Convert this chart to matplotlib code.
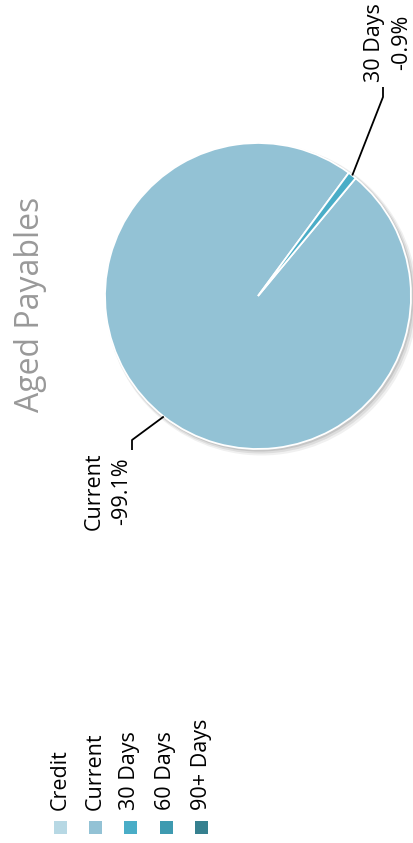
import numpy as np
import matplotlib
matplotlib.use('Agg')
import matplotlib.pyplot as plt
from matplotlib.patches import Rectangle, Circle

# Aged payables breakdown (percent of total, negative balances)
categories = ['Credit', 'Current', '30 Days', '60 Days', '90+ Days']
colors = ['#b7d8e4', '#93c2d5', '#4aadc7', '#3e9ab0', '#36808f']
pct = [0.0, -99.1, -0.9, 0.0, 0.0]

W, H = 413, 843
plt.rcParams['font.family'] = ['Open Sans', 'DejaVu Sans']

fig = plt.figure(figsize=(W / 100, H / 100), dpi=100)
ax = fig.add_axes([0, 0, 1, 1])

cx, cy, R = 258, 547, 153

# soft shadow under the pie
for i, a in enumerate([0.10, 0.08, 0.06]):
    ax.add_patch(Circle((cx + 1.5 + i, cy - 1.5 - i), R + 1 + i,
                        color='#000000', alpha=a, lw=0, zorder=1))

# only the non-zero buckets get a wedge
idx = [i for i, v in enumerate(pct) if v != 0]
vals = [abs(pct[i]) for i in idx]
wedges, _ = ax.pie(vals, colors=[colors[i] for i in idx], center=(cx, cy),
                   radius=R, startangle=53.6, counterclock=True,
                   wedgeprops=dict(edgecolor='white', linewidth=1.3),
                   frame=True)
for w in wedges:
    w.set_zorder(2)
ax.set_xlim(0, W)
ax.set_ylim(0, H)
ax.set_aspect('equal')
ax.axis('off')

# connectors and data labels
label_cfg = {
    1: dict(elbow=(132, 403), end=(132, 393), txt=(108, 391), ha='right'),
    2: dict(elbow=(383, 746), end=(383, 756), txt=(388, 761), ha='left'),
}
for w, i in zip(wedges, idx):
    mid = np.deg2rad((w.theta1 + w.theta2) / 2)
    rim = (cx + R * np.cos(mid), cy + R * np.sin(mid))
    c = label_cfg[i]
    ax.plot([rim[0], c['elbow'][0], c['end'][0]],
            [rim[1], c['elbow'][1], c['end'][1]],
            color='black', lw=1.3, zorder=3, solid_capstyle='butt')
    ax.text(c['txt'][0], c['txt'][1], '%s\n%.1f%%' % (categories[i], pct[i]),
            rotation=90, rotation_mode='anchor', ha=c['ha'], va='center',
            multialignment='center', linespacing=1.4, fontsize=15.5,
            color='black', zorder=4)

# title
ax.text(31, 539, 'Aged Payables', rotation=90, rotation_mode='anchor',
        ha='center', va='center', fontsize=23, color='#999999')

# legend
leg_x = [60, 95, 130, 166, 201]
for x, name, col in zip(leg_x, categories, colors):
    ax.add_patch(Rectangle((x - 6.5, 16 - 6.5), 13, 13, color=col, lw=0))
    ax.text(x, 33, name, rotation=90, rotation_mode='anchor', ha='left',
            va='center', fontsize=15.5, color='black')

fig.savefig('out.png', dpi=100)
